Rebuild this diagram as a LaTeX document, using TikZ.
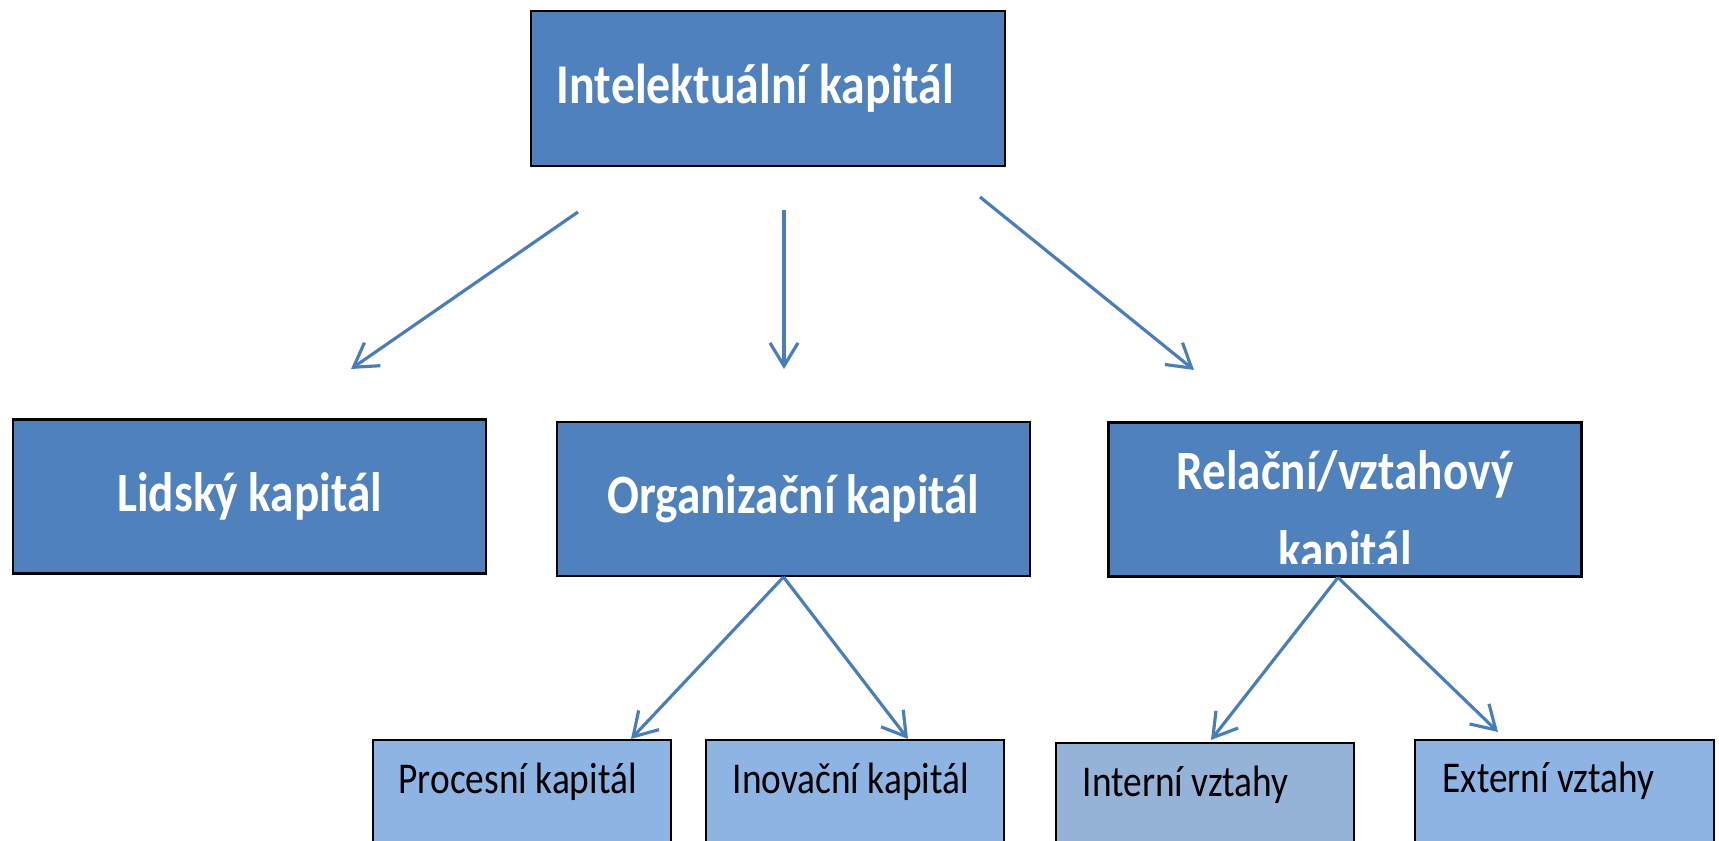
\documentclass[tikz,border=0pt]{standalone}
\usepackage{fontspec}
\setmainfont{Carlito}[FakeStretch=0.85]
\usetikzlibrary{positioning,arrows.meta,calc}
\definecolor{boxblue}{HTML}{4F81BD}
\definecolor{subblue}{HTML}{8EB4E3}
\definecolor{subgrey}{HTML}{95B3D7}
\definecolor{arrowblue}{HTML}{4A7EBB}

\begin{document}
\begin{tikzpicture}[
  main/.style={draw=black, line width=0.6pt, fill=boxblue, minimum width=4.73cm, minimum height=1.54cm, align=center, text=white, font=\fontsize{15.8}{22.8}\selectfont\bfseries},
  sub/.style={draw=black, line width=0.6pt, fill=subblue, minimum width=2.98cm, minimum height=1.6cm, anchor=north},
  subtext/.style={anchor=base west, inner sep=0pt, font=\fontsize{12.5}{14}\selectfont},
  arr/.style={-{Straight Barb[length=2.3mm, width=2.8mm]}, line width=0.9pt, color=arrowblue}
]
\clip (0,0) rectangle (17.19,8.41);
% top level
\node[main, minimum width=4.74cm, minimum height=1.55cm, text width=4.22cm, align=flush left, font=\fontsize{16}{20}\selectfont\bfseries] (ik) at (7.68,7.525) {Intelektuální kapitál};
% three kinds of capital
\node[main] (lk) at (2.495,3.445) {Lidský kapitál};
\node[main] (ok) at (7.935,3.42) {Organizační kapitál};
\node[main] (rk) at (13.45,3.415) {};
\begin{scope}
  \clip ($(rk.south west)+(0,0.14)$) rectangle (rk.north east);
  \node[main, draw=none, fill=none, minimum width=0pt, minimum height=0pt] (rk-t) at ($(rk.center)+(0,-0.15)$) {Relační/vztahový\\kapitál};
\end{scope}
% lower level
\node[sub] (pk) at (5.22,1.02) {};
\node[sub] (nk) at (8.55,1.02) {};
\node[sub, fill=subgrey] (iv) at (12.05,0.99) {};
\node[sub, minimum width=2.99cm] (ev) at (15.645,1.02) {};
\node[subtext] (pk-t) at ($(pk.north west)+(0.26,-0.55)$) {Procesní kapitál};
\node[subtext] (nk-t) at ($(nk.north west)+(0.27,-0.55)$) {Inovační kapitál};
\node[subtext] (iv-t) at ($(iv.north west)+(0.27,-0.55)$) {Interní vztahy};
\node[subtext] (ev-t) at ($(ev.north west)+(0.28,-0.54)$) {Externí vztahy};
% free arrows under the top box
\coordinate (a1) at (5.78,6.29);
\coordinate (a2) at (7.84,6.31);
\coordinate (a3) at (9.80,6.44);
\coordinate (b1) at (3.51,4.72);
\coordinate (b2) at (7.84,4.72);
\coordinate (b3) at (11.94,4.71);
\draw[arr] (a1) -- (b1);
\draw[arr] (a2) -- (b2);
\draw[arr] (a3) -- (b3);
\draw[arr] ([xshift=-0.1cm]ok.south) -- ([xshift=1.09cm]pk.north);
\draw[arr] ([xshift=-0.1cm]ok.south) -- ([xshift=0.53cm]nk.north);
\draw[arr] ([xshift=-0.07cm]rk.south) -- ([xshift=0.06cm, yshift=0.02cm]iv.north);
\draw[arr] ([xshift=-0.07cm]rk.south) -- ([xshift=-0.665cm, yshift=0.07cm]ev.north);
\end{tikzpicture}
\end{document}
